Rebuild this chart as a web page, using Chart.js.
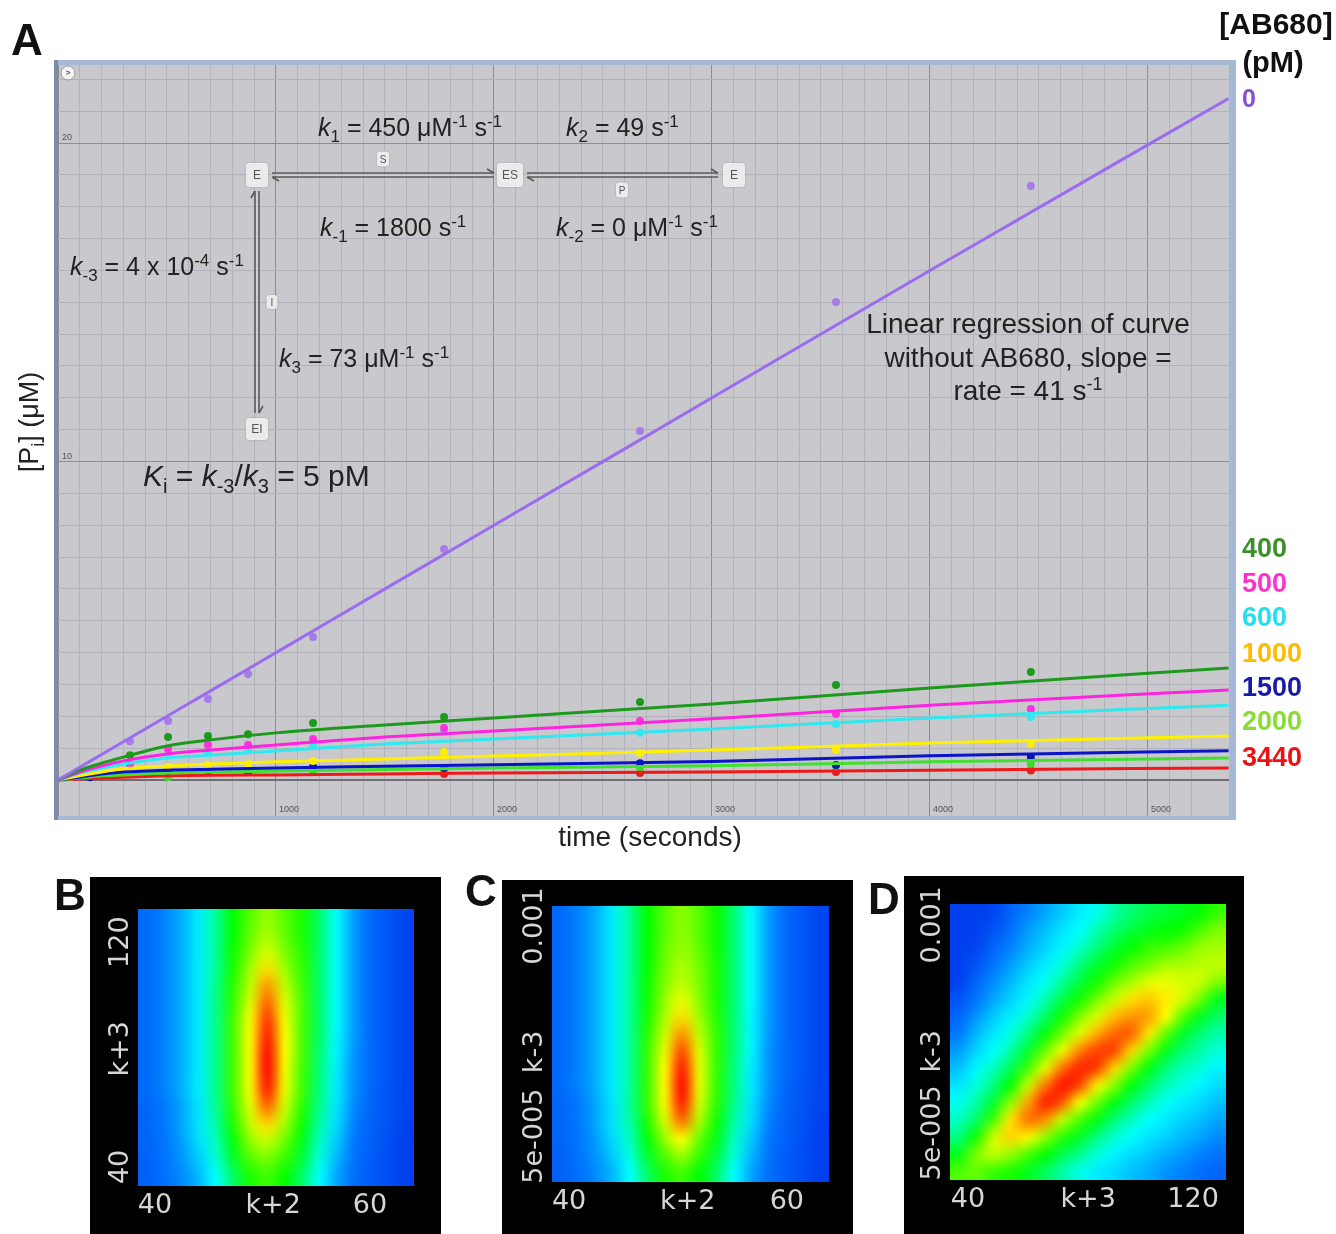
<!DOCTYPE html>
<html>
<head>
<meta charset="utf-8">
<script src="https://cdn.jsdelivr.net/npm/chart.js@4.4.1/dist/chart.umd.min.js"></script>
<style>
  body { margin:0; background:#fff; width:1336px; height:1234px; overflow:hidden; position:relative; }
  canvas { position:absolute; }
  #chartA { left:0; top:0; }
  #heatB { left:90px; top:877px; background:#000; }
  #heatC { left:502px; top:880px; background:#000; }
  #heatD { left:904px; top:876px; background:#000; }
</style>
</head>
<body>
<canvas id="chartA" width="1336" height="866"></canvas>
<canvas id="heatB" width="351" height="357"></canvas>
<canvas id="heatC" width="351" height="354"></canvas>
<canvas id="heatD" width="340" height="358"></canvas>
<script>
// ---------- panel A data ----------
// fitted curves, [Pi] in uM at these times (s)
const fitTimes = [0, 100, 200, 300, 500, 700, 1000, 1500, 2000, 3000, 4000, 5370];
const fit0    = [0, 0.40, 0.80, 1.20, 2.00, 2.80, 4.00, 6.00, 8.00, 12.0, 16.0, 21.4];
const fit400  = [0, 0.31, 0.53, 0.72, 1.07, 1.26, 1.48, 1.73, 1.95, 2.39, 2.89, 3.52];
const fit500  = [0, 0.25, 0.44, 0.60, 0.82, 0.94, 1.10, 1.35, 1.54, 1.92, 2.35, 2.83];
const fit600  = [0, 0.22, 0.38, 0.50, 0.69, 0.78, 0.91, 1.13, 1.29, 1.60, 1.95, 2.35];
const fit1000 = [0, 0.13, 0.25, 0.35, 0.44, 0.50, 0.57, 0.66, 0.75, 0.94, 1.16, 1.38];
const fit1500 = [0, 0.09, 0.19, 0.25, 0.31, 0.34, 0.38, 0.43, 0.48, 0.58, 0.76, 0.92];
const fit2000 = [0, 0.06, 0.13, 0.16, 0.22, 0.25, 0.28, 0.33, 0.38, 0.45, 0.57, 0.69];
const fit3440 = [0, 0.03, 0.06, 0.09, 0.13, 0.15, 0.16, 0.19, 0.22, 0.25, 0.31, 0.38];

// measured points
const dotTimes = [147, 330, 505, 688, 872, 1170, 1771, 2670, 3569, 4463];
const dots0    = [null, 1.22, 1.85, 2.54, 3.33, 4.49, 7.25, 10.96, 15.01, 18.65];
const dots400  = [null, 0.78, 1.35, 1.38, 1.44, 1.79, 1.98, 2.45, 2.98, 3.39];
const dots500  = [null, 0.50, 0.97, 1.10, 1.10, 1.29, 1.63, 1.85, 2.07, 2.23];
const dots600  = [null, 0.44, 0.78, 0.88, 0.94, 1.10, 1.51, 1.48, 1.76, 1.98];
const dots1000 = [null, 0.22, 0.41, 0.47, 0.50, 0.60, 0.88, 0.85, 0.94, 1.13];
const dots1500 = [0.09, null, 0.28, 0.30, 0.25, 0.41, 0.38, 0.53, 0.47, 0.72];
const dots2000 = [null, null, 0.09, 0.25, 0.31, 0.28, 0.31, 0.38, 0.44, 0.50];
const dots3440 = [null, null, null, null, null, null, 0.19, 0.22, 0.25, 0.30];

const concLabels = ['0', '400', '500', '600', '1000', '1500', '2000', '3440'];
const xMajorTicks = [1000, 2000, 3000, 4000, 5000];
const yMajorTicks = [10, 20];

// ---------- heat map data (rows top -> bottom, values 0..100) ----------
const heatB = [
  [12,16,21,28,38,50,57,62,57,52,42,30,19,12,8,4],
  [12,16,21,28,38,50,58,64,58,52,42,30,19,12,8,4],
  [12,16,21,28,38,51,60,68,60,53,42,30,19,12,8,4],
  [12,16,21,28,38,52,63,76,63,54,42,30,19,12,8,4],
  [12,16,21,28,39,53,66,84,66,55,42,30,19,12,8,4],
  [12,16,21,28,39,54,69,90,69,56,42,30,19,12,8,4],
  [12,16,21,28,39,55,71,95,71,56,42,30,19,12,8,4],
  [12,16,21,28,39,55,72,98,72,56,42,29,19,12,8,4],
  [12,16,21,28,39,55,72,100,72,56,41,29,18,12,8,4],
  [12,16,21,28,39,55,72,100,71,55,41,28,18,12,8,4],
  [12,16,21,28,39,55,71,97,70,55,40,28,18,11,7,4],
  [11,15,20,27,38,54,69,88,67,53,39,27,17,11,7,4],
  [11,15,20,27,37,52,66,76,63,51,37,26,16,10,7,3],
  [11,14,19,26,35,49,61,66,58,48,35,24,15,10,6,3],
  [10,14,18,24,33,46,56,59,54,45,33,22,14,9,6,3],
  [10,13,17,22,30,42,52,55,50,42,30,20,13,9,6,3]
];
const heatC = [
  [12,16,21,28,38,50,57,61,57,51,41,30,19,12,8,4],
  [12,16,21,28,38,50,57,61,57,51,41,30,19,12,8,4],
  [12,16,21,28,38,50,58,62,58,51,41,30,19,12,8,4],
  [12,16,21,28,38,50,59,64,59,52,41,30,19,12,8,4],
  [12,16,21,28,38,51,60,66,60,52,41,30,19,12,8,4],
  [12,16,21,28,38,51,62,70,61,52,41,30,19,12,8,4],
  [12,16,21,28,38,52,64,76,63,53,41,29,19,12,8,4],
  [12,16,21,28,38,53,67,85,66,54,41,29,19,12,8,4],
  [12,16,21,28,38,54,70,93,69,54,41,29,18,12,8,4],
  [12,16,21,28,38,54,72,98,70,54,40,28,18,12,8,4],
  [12,16,21,28,38,54,72,100,70,54,40,28,18,11,7,4],
  [11,15,20,27,38,54,71,97,68,53,39,27,17,11,7,4],
  [11,15,20,27,37,52,68,88,64,51,37,26,16,10,7,3],
  [11,14,19,26,35,49,62,72,58,48,35,24,15,10,6,3],
  [10,14,18,24,33,46,56,62,54,45,33,22,14,9,6,3],
  [10,13,17,22,30,42,52,55,50,42,30,20,13,9,6,3]
];
const heatD = [
  [3,3,4,11,16,20,24,28,31,37,41,44,46,48,50,54],
  [3,3,7,13,19,23,27,30,36,41,45,48,50,51,56,60],
  [3,4,11,16,21,25,29,34,40,46,50,54,55,58,62,63],
  [3,7,14,19,24,28,33,40,46,51,56,59,63,64,65,66],
  [3,11,17,22,27,31,38,45,51,58,63,69,70,68,67,60],
  [7,14,20,25,29,36,44,51,59,66,75,78,74,68,59,48],
  [11,18,24,28,34,42,51,60,68,79,84,83,72,57,48,42],
  [15,22,27,32,40,49,59,69,81,89,90,75,58,47,41,37],
  [19,25,30,37,46,58,70,86,93,93,77,60,48,41,37,33],
  [23,29,35,43,55,69,88,96,94,77,60,49,41,36,33,29],
  [27,33,40,50,66,87,98,93,74,61,49,42,36,32,29,26],
  [31,37,46,61,82,97,91,71,59,49,42,36,31,28,26,23],
  [35,42,55,75,88,85,66,56,49,41,35,30,28,25,23,20],
  [40,51,67,77,73,62,53,47,40,34,30,27,25,22,20,17],
  [48,60,66,62,56,50,44,39,33,29,26,24,21,19,16,14],
  [56,58,54,52,48,43,37,32,28,26,23,21,18,16,13,11]
];
// axis ranges and labelled ticks of the three maps
const rangeBx = [38.42, 64.1],  rangeBy = [33.2, 131.8];
const rangeCx = [38.43, 63.87], rangeCy = [2.6e-5, 1.33e-3];
const rangeDx = [33.6, 131.7],  rangeDy = [2.54e-5, 1.35e-3];
const ticksBx = [40, 51, 60],    labelsBx = ['40', 'k+2', '60'];
const ticksBy = [120, 82, 40],   labelsBy = ['120', 'k+3', '40'];
const ticksCx = [40, 50.9, 60],  labelsCx = ['40', 'k+2', '60'];
const ticksCy = [1e-3, 1.66e-4, 5e-5], labelsCy = ['0.001', 'k-3', '5e-005'];
const ticksDx = [40, 82.7, 120], labelsDx = ['40', 'k+3', '120'];
const ticksDy = [1e-3, 1.62e-4, 5e-5], labelsDy = ['0.001', 'k-3', '5e-005'];

// ---------- styles ----------
const F = '"Liberation Sans", Arial, Helvetica, sans-serif';
const lineColors = ['#9a6cf0', '#1b9a1b', '#ff22e0', '#30e8f0', '#fff000', '#0a14c8', '#40e030', '#f01818'];
const dotColors  = ['#a57ce8', '#1b9a1b', '#ff30dd', '#30e8f0', '#ffee00', '#0a14b0', '#40d830', '#e02020'];
const legendColors = ['#8a4fd0', '#3d8f2a', '#ff33cc', '#22e0ee', '#ffbb00', '#1a1aa8', '#88dd33', '#ee1111'];
const cmapStops = [0, 0.15, 0.30, 0.50, 0.62, 0.72, 0.85, 1.0];
const cmapColors = [[0,50,235],[0,120,255],[0,255,255],[0,255,0],[150,255,0],[255,255,0],[255,140,0],[255,0,0]];

const toXY = (xs, ys) => xs.map((x, i) => ({x: x, y: ys[i]}));
const fits = [fit0, fit400, fit500, fit600, fit1000, fit1500, fit2000, fit3440];
const dots = [dots0, dots400, dots500, dots600, dots1000, dots1500, dots2000, dots3440];

const datasets = [];
fits.forEach((f, i) => datasets.push({
  type: 'line', data: toXY(fitTimes, f), borderColor: lineColors[i], borderWidth: 3,
  pointRadius: 0, cubicInterpolationMode: 'monotone', fill: false
}));
dots.forEach((d, i) => datasets.push({
  type: 'scatter', data: toXY(dotTimes, d).filter(p => p.y !== null),
  backgroundColor: dotColors[i], borderWidth: 0, pointRadius: 4
}));

function drawRich(ctx, x, y, parts, size, align, color) {
  const fontFor = k => ((k === 'i') ? 'italic ' : '') + ((k === 'b' || k === 'p') ? Math.round(size * 0.66) : size) + 'px ' + F;
  let total = 0;
  parts.forEach(p => { ctx.font = fontFor(p[1]); total += ctx.measureText(p[0]).width; });
  let cx = align === 'center' ? x - total / 2 : (align === 'right' ? x - total : x);
  ctx.textAlign = 'left';
  ctx.textBaseline = 'alphabetic';
  ctx.fillStyle = color;
  parts.forEach(p => {
    ctx.font = fontFor(p[1]);
    const dy = p[1] === 'b' ? size * 0.22 : (p[1] === 'p' ? -size * 0.36 : 0);
    ctx.fillText(p[0], cx, y + dy);
    cx += ctx.measureText(p[0]).width;
  });
}

function box(ctx, cx, cy, w, h, txt, fs) {
  ctx.save();
  ctx.fillStyle = 'rgba(242,242,242,0.92)';
  ctx.shadowColor = 'rgba(0,0,0,0.25)';
  ctx.shadowBlur = 2;
  ctx.beginPath();
  ctx.roundRect(cx - w / 2, cy - h / 2, w, h, 3);
  ctx.fill();
  ctx.restore();
  ctx.fillStyle = '#555';
  ctx.font = fs + 'px ' + F;
  ctx.textAlign = 'center';
  ctx.textBaseline = 'middle';
  ctx.fillText(txt, cx, cy + 1);
}

// double reaction arrow between (x1,y1) and (x2,y2), horizontal or vertical
function dblArrow(ctx, x1, y1, x2, y2) {
  const horiz = y1 === y2;
  const o = 2;
  ctx.strokeStyle = '#5a5a5a';
  ctx.lineWidth = 1.6;
  ctx.beginPath();
  if (horiz) {
    ctx.moveTo(x1, y1 - o); ctx.lineTo(x2, y2 - o);
    ctx.moveTo(x1, y1 + o); ctx.lineTo(x2, y2 + o);
    ctx.moveTo(x2, y2 - o); ctx.lineTo(x2 - 7, y2 - o - 4);
    ctx.moveTo(x1, y1 + o); ctx.lineTo(x1 + 7, y1 + o + 4);
  } else {
    ctx.moveTo(x1 - o, y1); ctx.lineTo(x2 - o, y2);
    ctx.moveTo(x1 + o, y1); ctx.lineTo(x2 + o, y2);
    ctx.moveTo(x2 + o, y2); ctx.lineTo(x2 + o + 4, y2 - 7);
    ctx.moveTo(x1 - o, y1); ctx.lineTo(x1 - o - 4, y1 + 7);
  }
  ctx.stroke();
  ctx.strokeStyle = 'rgba(225,225,225,0.8)';
  ctx.lineWidth = 1;
  ctx.beginPath();
  if (horiz) { ctx.moveTo(x1 + 3, y1); ctx.lineTo(x2 - 3, y2); }
  else { ctx.moveTo(x1, y1 + 3); ctx.lineTo(x2, y2 - 3); }
  ctx.stroke();
}

const panelA = {
  id: 'panelA',
  beforeDraw(chart) {
    const {ctx, chartArea: a} = chart;
    ctx.save();
    ctx.fillStyle = '#c8c8cd';
    ctx.fillRect(a.left, a.top, a.right - a.left, a.bottom - a.top);
    ctx.restore();
  },
  afterDraw(chart) {
    const {ctx, chartArea: a, scales: {x, y}} = chart;
    ctx.save();
    // frame
    ctx.fillStyle = '#a6b8d8';
    ctx.fillRect(54, 60, 1182, 5);
    ctx.fillRect(54, a.bottom, 1182, 4);
    ctx.fillRect(a.right, 60, 7, a.bottom + 4 - 60);
    ctx.fillStyle = '#7b8cab';
    ctx.fillRect(54, 60, 4, a.bottom + 4 - 60);

    // tiny tick labels inside plot
    ctx.fillStyle = '#555';
    ctx.font = '9px ' + F;
    ctx.textAlign = 'left';
    ctx.textBaseline = 'alphabetic';
    xMajorTicks.forEach(v => ctx.fillText(String(v), x.getPixelForValue(v) + 3, a.bottom - 4));
    yMajorTicks.forEach(v => ctx.fillText(String(v), a.left + 4, y.getPixelForValue(v) - 3));

    // small round button top-left
    ctx.beginPath();
    ctx.arc(a.left + 10, a.top + 8, 7, 0, Math.PI * 2);
    ctx.fillStyle = '#f4f4f4';
    ctx.fill();
    ctx.strokeStyle = '#999';
    ctx.lineWidth = 1;
    ctx.stroke();
    ctx.fillStyle = '#555';
    ctx.font = 'bold 8px ' + F;
    ctx.textAlign = 'center';
    ctx.textBaseline = 'middle';
    ctx.fillText('>', a.left + 10, a.top + 8);

    // reaction scheme
    dblArrow(ctx, 272, 175, 494, 175);
    dblArrow(ctx, 527, 175, 718, 175);
    dblArrow(ctx, 257, 191, 257, 413);
    box(ctx, 257, 175, 22, 24, 'E', 12);
    box(ctx, 510, 175, 26, 24, 'ES', 12);
    box(ctx, 734, 175, 22, 24, 'E', 12);
    box(ctx, 257, 429, 22, 22, 'EI', 12);
    box(ctx, 383, 159, 12, 15, 'S', 10);
    box(ctx, 622, 190, 12, 15, 'P', 10);
    box(ctx, 272, 302, 11, 14, 'I', 10);

    const tc = '#222';
    drawRich(ctx, 318, 136, [['k','i'],['1','b'],[' = 450 \u03bcM',''],['-1','p'],[' s',''],['-1','p']], 25, 'left', tc);
    drawRich(ctx, 566, 136, [['k','i'],['2','b'],[' = 49 s',''],['-1','p']], 25, 'left', tc);
    drawRich(ctx, 320, 236, [['k','i'],['-1','b'],[' = 1800 s',''],['-1','p']], 25, 'left', tc);
    drawRich(ctx, 556, 236, [['k','i'],['-2','b'],[' = 0 \u03bcM',''],['-1','p'],[' s',''],['-1','p']], 25, 'left', tc);
    drawRich(ctx, 70, 275, [['k','i'],['-3','b'],[' = 4 x 10',''],['-4','p'],[' s',''],['-1','p']], 25, 'left', tc);
    drawRich(ctx, 279, 367, [['k','i'],['3','b'],[' = 73 \u03bcM',''],['-1','p'],[' s',''],['-1','p']], 25, 'left', tc);
    drawRich(ctx, 143, 486, [['K','i'],['i','b'],[' = ',''],['k','i'],['-3','b'],['/',''],['k','i'],['3','b'],[' = 5 pM','']], 30, 'left', tc);

    drawRich(ctx, 1028, 333, [['Linear regression of curve','']], 28, 'center', tc);
    drawRich(ctx, 1028, 367, [['without AB680, slope =','']], 28, 'center', tc);
    drawRich(ctx, 1028, 400, [['rate = 41 s',''],['-1','p']], 28, 'center', tc);

    // axis titles
    drawRich(ctx, 650, 846, [['time (seconds)','']], 28, 'center', '#222');
    ctx.save();
    ctx.translate(38, 422);
    ctx.rotate(-Math.PI / 2);
    drawRich(ctx, 0, 0, [['[P',''],['i','b'],['] (\u03bcM)','']], 27, 'center', '#222');
    ctx.restore();

    // panel letter and legend
    ctx.fillStyle = '#111';
    ctx.font = 'bold 44px ' + F;
    ctx.textAlign = 'left';
    ctx.textBaseline = 'alphabetic';
    ctx.fillText('A', 11, 55);
    ctx.font = 'bold 30px ' + F;
    ctx.textAlign = 'center';
    ctx.fillText('[AB680]', 1276, 34);
    ctx.font = 'bold 29px ' + F;
    ctx.fillText('(pM)', 1273, 72);
    const legY = [100, 550, 585, 619, 655, 689, 723, 759];
    ctx.textAlign = 'left';
    ctx.textBaseline = 'middle';
    concLabels.forEach((t, i) => {
      ctx.font = 'bold ' + (i === 0 ? 25 : 27) + 'px ' + F;
      ctx.fillStyle = legendColors[i];
      ctx.fillText(t, 1242, legY[i]);
    });
    ctx.restore();
  }
};

const near = (v, m) => Math.abs(v / m - Math.round(v / m)) < 1e-6;
new Chart(document.getElementById('chartA'), {
  type: 'scatter',
  data: { datasets: datasets },
  options: {
    responsive: false, animation: false, events: [],
    layout: { padding: { left: 58, top: 65, right: 107, bottom: 50 } },
    plugins: { legend: { display: false }, tooltip: { enabled: false } },
    scales: {
      x: {
        type: 'linear', min: 0, max: 5372, border: { display: false },
        ticks: { display: false, stepSize: 100 },
        grid: {
          drawTicks: false,
          color: c => near(c.tick.value, 1000) ? '#8c8c92' : (near(c.tick.value, 100) ? '#b2b3ba' : 'rgba(0,0,0,0)'),
          lineWidth: 1
        }
      },
      y: {
        type: 'linear', min: -1.13, max: 22.45, border: { display: false },
        ticks: { display: false, stepSize: 1 },
        grid: {
          drawTicks: false,
          color: c => c.tick.value === 0 ? '#6e6e72' : (near(c.tick.value, 10) ? '#8c8c92' : (near(c.tick.value, 1) ? '#b2b3ba' : 'rgba(0,0,0,0)')),
          lineWidth: c => c.tick.value === 0 ? 2 : 1
        }
      }
    }
  },
  plugins: [panelA]
});

// ---------- heat maps ----------
function cmap(v) {
  v = Math.max(0, Math.min(1, v));
  let i = 0;
  while (i < cmapStops.length - 2 && v > cmapStops[i + 1]) i++;
  const t = (v - cmapStops[i]) / (cmapStops[i + 1] - cmapStops[i]);
  const a = cmapColors[i], b = cmapColors[i + 1];
  return [0, 1, 2].map(k => Math.round(a[k] + (b[k] - a[k]) * t));
}

const heatPlugin = {
  id: 'heat',
  beforeDatasetsDraw(chart, args, opts) {
    const {ctx, chartArea: a, scales: {x, y}} = chart;
    const grid = opts.grid;
    const rows = grid.length, cols = grid[0].length;
    const off = document.createElement('canvas');
    off.width = cols; off.height = rows;
    const octx = off.getContext('2d');
    const img = octx.createImageData(cols, rows);
    grid.forEach((row, r) => row.forEach((v, c) => {
      const col = cmap(v / 100), k = (r * cols + c) * 4;
      img.data[k] = col[0]; img.data[k + 1] = col[1]; img.data[k + 2] = col[2]; img.data[k + 3] = 255;
    }));
    octx.putImageData(img, 0, 0);
    const left = x.getPixelForValue(x.min), right = x.getPixelForValue(x.max);
    const top = y.getPixelForValue(y.max), bottom = y.getPixelForValue(y.min);
    ctx.save();
    ctx.imageSmoothingEnabled = true;
    ctx.imageSmoothingQuality = 'high';
    ctx.drawImage(off, left, top, right - left, bottom - top);
    ctx.restore();

    ctx.save();
    ctx.fillStyle = '#d6d6d6';
    ctx.font = '27px "DejaVu Sans", Verdana, sans-serif';
    ctx.textAlign = 'center';
    ctx.textBaseline = 'middle';
    opts.xTicks.forEach((v, i) => ctx.fillText(opts.xLabels[i], x.getPixelForValue(v), a.bottom + 20));
    opts.yTicks.forEach((v, i) => {
      ctx.save();
      ctx.translate(a.left - 17, y.getPixelForValue(v));
      ctx.rotate(-Math.PI / 2);
      ctx.fillText(opts.yLabels[i], 0, 0);
      ctx.restore();
    });
    ctx.restore();
  }
};

function heatChart(id, grid, pad, rx, ry, yType, xt, xl, yt, yl) {
  return new Chart(document.getElementById(id), {
    type: 'scatter',
    data: { datasets: [{ data: [] }] },
    options: {
      responsive: false, animation: false, events: [],
      layout: { padding: pad },
      plugins: {
        legend: { display: false }, tooltip: { enabled: false },
        heat: { grid: grid, xTicks: xt, xLabels: xl, yTicks: yt, yLabels: yl }
      },
      scales: {
        x: { type: 'linear', min: rx[0], max: rx[1], display: false },
        y: { type: yType, min: ry[0], max: ry[1], display: false }
      }
    },
    plugins: [heatPlugin]
  });
}
heatChart('heatB', heatB, {left: 48, top: 32, right: 27, bottom: 48}, rangeBx, rangeBy, 'linear', ticksBx, labelsBx, ticksBy, labelsBy);
heatChart('heatC', heatC, {left: 50, top: 26, right: 24, bottom: 52}, rangeCx, rangeCy, 'logarithmic', ticksCx, labelsCx, ticksCy, labelsCy);
heatChart('heatD', heatD, {left: 46, top: 28, right: 18, bottom: 54}, rangeDx, rangeDy, 'logarithmic', ticksDx, labelsDx, ticksDy, labelsDy);

// panel letters B, C, D (on the page, outside the map canvases)
const letters = document.createElement('canvas');
letters.width = 1336; letters.height = 60;
letters.style.left = '0px'; letters.style.top = '866px';
document.body.appendChild(letters);
const lctx = letters.getContext('2d');
lctx.fillStyle = '#111';
lctx.font = 'bold 44px ' + F;
lctx.fillText('B', 54, 910 - 866);
lctx.fillText('C', 465, 906 - 866);
lctx.fillText('D', 868, 914 - 866);
</script>
</body>
</html>
